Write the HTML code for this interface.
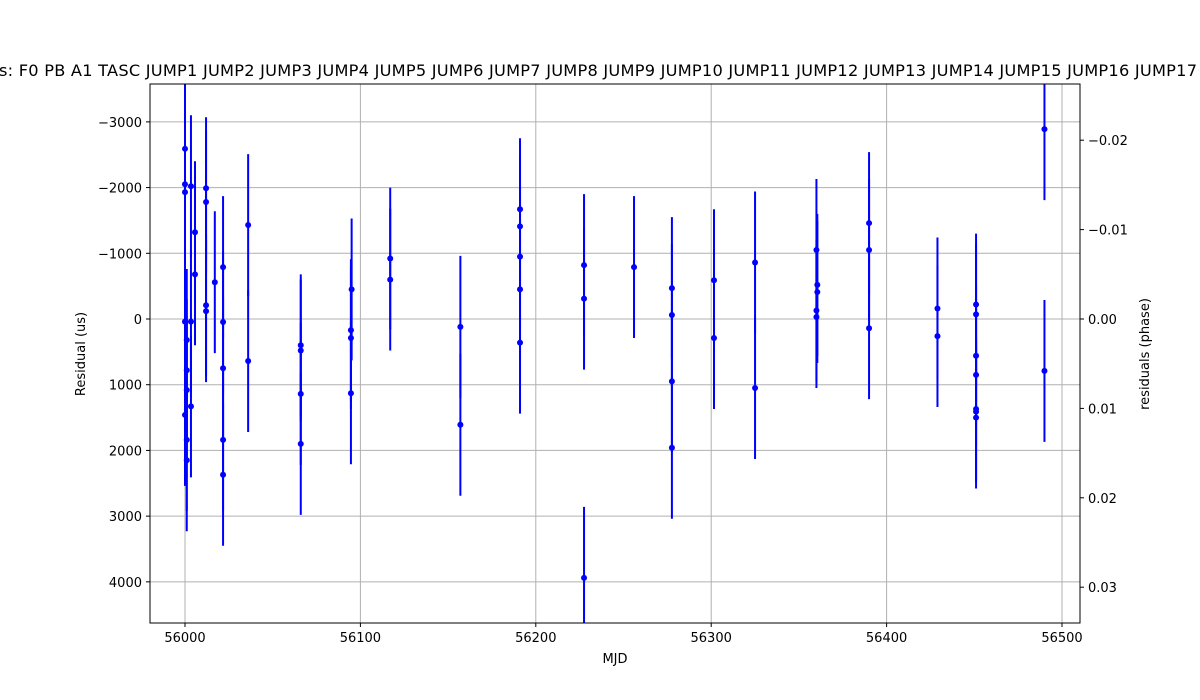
<!DOCTYPE html>
<html><head><meta charset="utf-8"><style>
body{margin:0;background:#fff;}
svg{display:block;font-family:"DejaVu Sans","Liberation Sans",sans-serif;}
</style></head><body>
<svg width="1200" height="700">
<defs><clipPath id="plot"><rect x="150" y="84" width="930" height="539"/></clipPath></defs>
<rect x="0" y="0" width="1200" height="700" fill="#fff"/>
<g id="grid"></g>
<g id="marks" clip-path="url(#plot)"></g>
<rect x="150" y="84" width="930" height="539" fill="none" stroke="#000" stroke-width="1"/>
<g id="axes"></g>
<text x="-1" y="76" text-anchor="start" font-size="16.2" textLength="1198" lengthAdjust="spacing">s: F0 PB A1 TASC JUMP1 JUMP2 JUMP3 JUMP4 JUMP5 JUMP6 JUMP7 JUMP8 JUMP9 JUMP10 JUMP11 JUMP12 JUMP13 JUMP14 JUMP15 JUMP16 JUMP17</text>
<text x="615" y="663" text-anchor="middle" font-size="13">MJD</text>
<text x="0" y="0" transform="translate(85,354) rotate(-90)" text-anchor="middle" font-size="13">Residual (us)</text>
<text x="0" y="0" transform="translate(1149,354) rotate(-90)" text-anchor="middle" font-size="13">residuals (phase)</text>
</svg>
<script>
const mjd=[56000,56000,56000,56000,56000,56001,56001,56001,56001,56001,56003.4,56003.4,56003.4,56005.7,56005.7,56012,56012,56012,56012,56017,56021.7,56021.7,56021.7,56021.7,56021.7,56036,56036,
56066,56066,56066,56066,56094.6,56094.6,56094.6,56095,56117,56117,56157,56157,56191,56191,56191,56191,56191,56227.5,56227.5,56227.5,56256,56277.6,56277.6,56277.6,56277.6,56301.6,56301.6,56325,56325,56360,56360,56360,56360.5,56360.5,56390,56390,56390,56429,56429,56451,56451,56451,56451,56451,56451,56451,56490,56490];
const resid=[-2590,-2050,-1930,40,1460,320,780,1080,1840,2150,-2020,40,1330,-1320,-680,-1990,-1780,-210,-120,-560,-790,45,750,1840,2370,-1430,640,
400,480,1140,1900,170,290,1130,-450,-920,-600,120,1610,-1670,-1410,-950,-450,360,-820,-310,3940,-790,-470,-60,950,1960,-590,290,-860,1050,-1050,-130,-30,-520,-410,-1460,-1050,140,-160,260,-220,-70,560,850,1370,1410,1500,-2890,790];
const errs=resid.map(()=>1080);
const yTicks=[-3000,-2000,-1000,0,1000,2000,3000,4000];
const yTickLabels=['\u22123000','\u22122000','\u22121000','0','1000','2000','3000','4000'];
const xTicks=[56000,56100,56200,56300,56400,56500];
const rTicks=[-0.02,-0.01,0,0.01,0.02,0.03];
const rTickLabels=['\u22120.02','\u22120.01','0.00','0.01','0.02','0.03'];
const NS='http://www.w3.org/2000/svg';
const X=v=>185+(v-56000)*1.754;
const Y=v=>319+v*0.06571;
const R=v=>319+v*8940;
function mk(t,a,p){const e=document.createElementNS(NS,t);for(const k in a)e.setAttribute(k,a[k]);p.appendChild(e);return e;}
const grid=document.getElementById('grid'),marks=document.getElementById('marks'),axes=document.getElementById('axes');
xTicks.forEach(v=>{const x=X(v);
 const g=mk('line',{x1:x,x2:x,y1:84,y2:623,stroke:'#b0b0b0','stroke-width':1},grid);
 
 mk('line',{x1:x,x2:x,y1:623,y2:627,stroke:'#000'},axes);
 const t=mk('text',{x:x,y:642,'text-anchor':'middle','font-size':13},axes);t.textContent=v;
 });
yTicks.forEach((v,i)=>{const y=Y(v);
 const g=mk('line',{x1:150,x2:1080,y1:y,y2:y,stroke:'#b0b0b0','stroke-width':1},grid);
 
 mk('line',{x1:146,x2:150,y1:y,y2:y,stroke:'#000'},axes);
 const t=mk('text',{x:142,y:y+5,'text-anchor':'end','font-size':13},axes);t.textContent=yTickLabels[i];
 });
rTicks.forEach((v,i)=>{const y=R(v);
 mk('line',{x1:1080,x2:1084,y1:y,y2:y,stroke:'#000'},axes);
 const t=mk('text',{x:1088,y:y+5,'text-anchor':'start','font-size':13},axes);t.textContent=rTickLabels[i];
 });
mjd.forEach((m,i)=>{const x=X(m),y=Y(resid[i]),e=errs[i]*0.06571;
 const l=mk('line',{x1:x,x2:x,y1:y-e,y2:y+e,stroke:'#0000ff','stroke-width':2},marks);
 
 const c=mk('circle',{cx:x,cy:y,r:3,fill:'#0000ff'},marks);
 });
</script>
</body></html>
